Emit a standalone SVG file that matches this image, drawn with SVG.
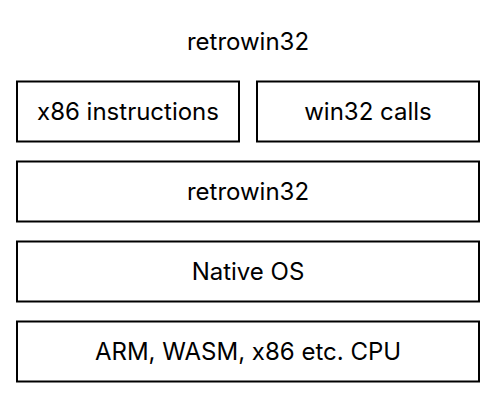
<svg xmlns="http://www.w3.org/2000/svg" width="496" height="400" viewBox="0 0 496 400">
<style>
rect.b{fill:#fff;stroke:#000;stroke-width:2}
text{font-family:Inter,"Noto Sans",sans-serif;font-size:24px;fill:#000;text-anchor:middle;dominant-baseline:central}
</style>
<rect width="496" height="400" fill="#fff"/>
<g id="title"><text x="248" y="41">retrowin32</text></g>
<g id="x86"><rect class="b" x="17" y="81.5" width="222" height="60"/><text x="128" y="111.5">x86 instructions</text></g>
<g id="win32"><rect class="b" x="257" y="81.5" width="222" height="60"/><text x="368" y="111.5">win32 calls</text></g>
<g id="retrowin32"><rect class="b" x="17" y="161.5" width="462" height="60"/><text x="248" y="191.5">retrowin32</text></g>
<g id="nativeos"><rect class="b" x="17" y="241.5" width="462" height="60"/><text x="248" y="271.5">Native OS</text></g>
<g id="cpu"><rect class="b" x="17" y="321.5" width="462" height="60"/><text x="248" y="351.5">ARM, WASM, x86 etc. CPU</text></g>
<g id="connectors"></g>
</svg>
